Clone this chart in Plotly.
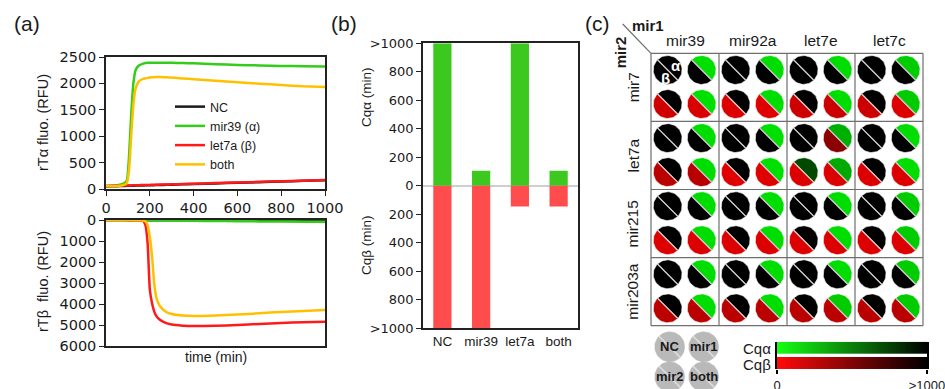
import numpy as np
import plotly.graph_objects as go

W, H = 945, 389
FONT = "Liberation Sans, Arial, sans-serif"
NUMFONT = "DejaVu Sans, Liberation Sans, sans-serif"

# ---------------- Panel (a) data ----------------
time_min = [0, 50, 80, 95, 105, 115, 125, 135, 150, 170, 180, 190, 200, 210, 220, 230,
            240, 250, 275, 300, 350, 400, 500, 600, 700, 800, 900, 1000]
alpha_nc = [48, 54, 58, 60, 61, 62, 63, 64, 66, 68, 69, 70, 71, 72, 73, 74,
            75, 76, 79, 82, 88, 94, 106, 118, 130, 142, 154, 165]
alpha_mir39 = [55, 70, 100, 160, 600, 1400, 2000, 2250, 2340, 2375, 2385, 2390, 2390, 2392, 2393, 2393,
               2393, 2392, 2390, 2390, 2385, 2380, 2365, 2350, 2340, 2330, 2325, 2320]
alpha_let7a = [55, 60, 64, 66, 67, 68, 70, 71, 73, 75, 76, 77, 78, 79, 80, 81,
               82, 84, 86, 89, 95, 100, 112, 124, 135, 147, 158, 170]
alpha_both = [50, 58, 75, 110, 350, 1000, 1600, 1900, 2040, 2085, 2095, 2105, 2110, 2115, 2118, 2120,
              2120, 2120, 2115, 2110, 2095, 2080, 2050, 2020, 1995, 1970, 1945, 1930]
beta_nc = [0, 1, 2, 2, 3, 3, 3, 4, 4, 5, 5, 6, 6, 6, 7, 7,
           8, 8, 9, 10, 13, 16, 22, 28, 34, 40, 46, 52]
beta_mir39 = [0, 3, 5, 6, 7, 8, 9, 10, 12, 14, 15, 16, 17, 18, 19, 20,
              21, 22, 25, 28, 33, 38, 48, 58, 66, 74, 80, 85]
beta_let7a = [0, 2, 4, 5, 6, 7, 8, 10, 18, 50, 250, 1100, 3300, 3950, 4350, 4580,
              4700, 4780, 4910, 4980, 5030, 5050, 5040, 5000, 4950, 4900, 4870, 4850]
beta_both = [0, 2, 3, 4, 5, 6, 7, 8, 12, 20, 60, 250, 800, 1700, 3000, 3700,
             3980, 4150, 4380, 4480, 4550, 4570, 4550, 4500, 4440, 4380, 4330, 4290]

series_names = ["NC", "mir39 (α)", "let7a (β)", "both"]
series_colors = ["#1a1a1a", "#33cc1a", "#ff1a1a", "#ffc000"]

# ---------------- Panel (b) data ----------------
bar_categories = ["NC", "mir39", "let7a", "both"]
cq_alpha_bar = [1000, 105, 1000, 105]
cq_beta_bar = [1000, 1000, 147, 147]
bar_ticks = [-1000, -800, -600, -400, -200, 0, 200, 400, 600, 800, 1000]
bar_ticktext = [">1000", "800", "600", "400", "200", "0", "200", "400", "600", "800", ">1000"]

# ---------------- Panel (c) data ----------------
col_labels = ["mir39", "mir92a", "let7e", "let7c"]
row_labels = ["mir7", "let7a", "mir215", "mir203a"]
conditions = ["NC", "mir1", "mir2", "both"]
# [row][col][condition]  (Cq in min, 1000 means >1000)
cq_alpha_grid = [
    [[1000, 122, 1000, 122], [1000, 133, 1000, 133], [1000, 133, 1000, 133], [1000, 200, 1000, 200]],
    [[1000, 133, 1000, 133], [1000, 122, 1000, 122], [1000, 310, 710, 333], [1000, 133, 1000, 133]],
    [[1000, 133, 1000, 133], [1000, 133, 1000, 133], [1000, 133, 1000, 133], [1000, 200, 1000, 200]],
    [[1000, 133, 1000, 133], [1000, 133, 1000, 133], [1000, 133, 1000, 200], [1000, 200, 1000, 200]],
]
cq_beta_grid = [
    [[1000, 1000, 184, 150], [1000, 1000, 133, 122], [1000, 1000, 200, 200], [1000, 1000, 200, 133]],
    [[1000, 1000, 267, 280], [1000, 1000, 122, 122], [1000, 455, 133, 133], [1000, 1000, 133, 133]],
    [[1000, 1000, 133, 133], [1000, 1000, 133, 133], [1000, 1000, 133, 133], [1000, 1000, 133, 133]],
    [[1000, 1000, 267, 267], [1000, 1000, 267, 267], [1000, 1000, 267, 267], [1000, 1000, 267, 267]],
]
scale_ticks = [0, 1000]
scale_ticktext = ["0", ">1000"]

fig = go.Figure()

# ---- Panel (a) traces ----
alpha_series = [alpha_nc, alpha_mir39, alpha_let7a, alpha_both]
beta_series = [beta_nc, beta_mir39, beta_let7a, beta_both]
for name, col, a in zip(series_names, series_colors, alpha_series):
    fig.add_trace(go.Scatter(x=time_min, y=a, mode="lines", name=name,
                             line=dict(color=col, width=2.5, shape="spline", smoothing=0.5),
                             xaxis="x", yaxis="y", showlegend=True))
for name, col, b in zip(series_names, series_colors, beta_series):
    fig.add_trace(go.Scatter(x=time_min, y=b, mode="lines", name=name,
                             line=dict(color=col, width=2.5, shape="spline", smoothing=0.5),
                             xaxis="x2", yaxis="y2", showlegend=False))

# ---- Panel (b) traces ----
fig.add_trace(go.Bar(x=bar_categories, y=cq_alpha_bar, marker=dict(color="#3cc81e", line_width=0),
                     xaxis="x3", yaxis="y3", showlegend=False))
fig.add_trace(go.Bar(x=bar_categories, y=[-v for v in cq_beta_bar], marker=dict(color="#ff4d4d", line_width=0),
                     xaxis="x3", yaxis="y3", showlegend=False))

# ---- Panel (c) traces ----
R = 0.212
OFF = [0.245, 0.745]


def half(cx, cy, t0, t1, r=R, n=36):
    t = np.radians(np.linspace(t0, t1, n))
    xs = cx + r * np.cos(t)
    ys = cy + r * np.sin(t)
    return list(xs) + [xs[0]], list(ys) + [ys[0]]


def alpha_color(v):
    f = 1 - min(v, 1000) / 1000
    return f"rgb(0,{round(255 * f)},0)"


def beta_color(v):
    f = 1 - min(v, 1000) / 1000
    return f"rgb({round(255 * f)},0,0)"


sep_x, sep_y = [], []
for ri in range(len(row_labels)):
    for ci in range(len(col_labels)):
        for k in range(len(conditions)):
            cx = ci + OFF[k % 2]
            cy = ri + OFF[k // 2]
            xa, ya = half(cx, cy, -135, 45)
            xb, yb = half(cx, cy, 45, 225)
            fig.add_trace(go.Scatter(x=xa, y=ya, fill="toself", mode="lines",
                                     fillcolor=alpha_color(cq_alpha_grid[ri][ci][k]),
                                     line=dict(width=0.6, color="white"),
                                     xaxis="x4", yaxis="y4", showlegend=False, hoverinfo="skip"))
            fig.add_trace(go.Scatter(x=xb, y=yb, fill="toself", mode="lines",
                                     fillcolor=beta_color(cq_beta_grid[ri][ci][k]),
                                     line=dict(width=0.6, color="white"),
                                     xaxis="x4", yaxis="y4", showlegend=False, hoverinfo="skip"))
            c = np.cos(np.radians(45)) * R
            sep_x += [cx - c, cx + c, None]
            sep_y += [cy - c, cy + c, None]

fig.add_trace(go.Scatter(x=sep_x, y=sep_y, mode="lines", line=dict(color="#c8c8c8", width=1.3),
                         xaxis="x4", yaxis="y4", showlegend=False, hoverinfo="skip"))

# grid lines
gx, gy = [], []
n = len(col_labels)
for i in range(n + 1):
    gx += [i, i, None]
    gy += [0, n, None]
    gx += [0, n, None]
    gy += [i, i, None]
gx += [-0.416, 0, None]
gy += [-0.43, 0, None]
fig.add_trace(go.Scatter(x=gx, y=gy, mode="lines", line=dict(color="#6e6e6e", width=1.2),
                         xaxis="x4", yaxis="y4", showlegend=False, hoverinfo="skip"))

# key circles
KEY_Y = [4.31, 4.75]
kx, ky = [], []
for k, lab in enumerate(conditions):
    cx = OFF[k % 2] + 0.03
    cy = KEY_Y[k // 2]
    t = np.radians(np.linspace(0, 360, 60))
    fig.add_trace(go.Scatter(x=list(cx + 0.22 * np.cos(t)), y=list(cy + 0.22 * np.sin(t)), fill="toself",
                             mode="lines", fillcolor="#b9b9b9", line=dict(width=0.5, color="#b9b9b9"),
                             xaxis="x4", yaxis="y4", showlegend=False, hoverinfo="skip"))
    c = np.cos(np.radians(45)) * 0.22
    kx += [cx - c, cx + c, None]
    ky += [cy - c, cy + c, None]
fig.add_trace(go.Scatter(x=kx, y=ky, mode="lines", line=dict(color="#dedede", width=1.5),
                         xaxis="x4", yaxis="y4", showlegend=False, hoverinfo="skip"))

# colour scale bars
edges = list(np.linspace(0, 1000, 101))
centers = [[(edges[i] + edges[i + 1]) / 2 for i in range(100)]]
fig.add_trace(go.Heatmap(x=edges, y=[0.56, 1.0], z=centers, zmin=0, zmax=1000,
                         colorscale=[[0, "rgb(20,255,20)"], [1, "rgb(0,0,0)"]], showscale=False,
                         xaxis="x5", yaxis="y5", hoverinfo="skip"))
fig.add_trace(go.Heatmap(x=edges, y=[0.0, 0.44], z=centers, zmin=0, zmax=1000,
                         colorscale=[[0, "rgb(255,10,10)"], [1, "rgb(0,0,0)"]], showscale=False,
                         xaxis="x5", yaxis="y5", hoverinfo="skip"))


def px_x(p):
    return p / W


def px_y(p):
    return 1 - p / H


axcommon = dict(showgrid=False, zeroline=False, showline=True, mirror=True, linecolor="#222",
                linewidth=1.5, ticks="outside", tickcolor="#222", ticklen=5, automargin=False)

# panel c coordinate system (units = cells, 68 px per unit)
x4_range = [(600 - 651) / 68.0, (945 - 651) / 68.0]
y4_range = [(389 - 53.3) / 68.1, (0 - 53.3) / 68.1]

fig.update_layout(
    width=W, height=H, margin=dict(l=0, r=0, t=0, b=0, pad=0), autosize=False,
    paper_bgcolor="white", plot_bgcolor="white",
    font=dict(family=FONT, color="#1a1a1a", size=14),
    barmode="relative", bargap=0.53,
    legend=dict(x=px_x(170), y=px_y(92), xanchor="left", yanchor="top",
                bgcolor="rgba(0,0,0,0)", font=dict(size=12.5, family=FONT),
                itemwidth=30, tracegroupgap=0),
    xaxis=dict(domain=[px_x(106), px_x(325)], anchor="y", range=[0, 1000],
               tickvals=[0, 200, 400, 600, 800, 1000],
               tickfont=dict(family=NUMFONT, size=14.5), **axcommon),
    yaxis=dict(domain=[px_y(189), px_y(57)], anchor="x", range=[0, 2500],
               tickvals=[0, 500, 1000, 1500, 2000, 2500],
               tickfont=dict(family=NUMFONT, size=14.5), **axcommon),
    xaxis2=dict(domain=[px_x(106), px_x(325)], anchor="y2", range=[0, 1000], showticklabels=False,
                **{**axcommon, "ticks": ""}),
    yaxis2=dict(domain=[px_y(346), px_y(220)], anchor="x2", range=[6000, 0],
                tickvals=[0, 1000, 2000, 3000, 4000, 5000, 6000],
                tickfont=dict(family=NUMFONT, size=14.5), **axcommon),
    xaxis3=dict(domain=[px_x(423), px_x(578)], anchor="y3", ticks="", showline=True, mirror=True,
                linecolor="#222", linewidth=1.5, tickfont=dict(size=13.5), showgrid=False,
                automargin=False),
    yaxis3=dict(domain=[px_y(328), px_y(43.3)], anchor="x3", range=[-1000, 1000], tickvals=bar_ticks,
                ticktext=bar_ticktext, tickfont=dict(family=NUMFONT, size=13),
                showgrid=False, zeroline=True, zerolinecolor="#cfcfcf", zerolinewidth=2,
                showline=True, mirror=True, linecolor="#222", linewidth=1.5,
                ticks="outside", tickcolor="#222", ticklen=5, automargin=False),
    xaxis4=dict(domain=[px_x(600), 1], anchor="y4", range=x4_range, visible=False, automargin=False),
    yaxis4=dict(domain=[0, 1], anchor="x4", range=y4_range, visible=False, automargin=False),
    xaxis5=dict(domain=[px_x(777), px_x(927)], anchor="y5", range=[0, 1000], tickvals=scale_ticks,
                ticktext=scale_ticktext, ticks="outside", ticklen=4, tickwidth=2, tickcolor="black",
                showline=False, showgrid=False, zeroline=False, tickfont=dict(size=13),
                ticklabeloverflow="allow", automargin=False),
    yaxis5=dict(domain=[px_y(369), px_y(341.7)], anchor="x5", range=[0, 1], showticklabels=False, ticks="",
                showline=True, mirror=True, linecolor="black", linewidth=2, showgrid=False, zeroline=False,
                automargin=False),
)

C = dict(xanchor="center", yanchor="middle", showarrow=False)
ann = []
# panel labels
for lab, x in [("(a)", 27), ("(b)", 344), ("(c)", 597)]:
    ann.append(dict(text=lab, x=px_x(x), y=px_y(23), xref="paper", yref="paper",
                    font=dict(size=21), **C))
# panel a titles
ann.append(dict(text="rTα fluo. (RFU)", x=px_x(43), y=px_y(123), xref="paper", yref="paper",
                textangle=-90, font=dict(size=14.5), **C))
ann.append(dict(text="rTβ  fluo. (RFU)", x=px_x(43), y=px_y(282), xref="paper", yref="paper",
                textangle=-90, font=dict(size=14.5), **C))
ann.append(dict(text="time (min)", x=px_x(215.5), y=px_y(357), xref="paper", yref="paper",
                font=dict(size=14), **C))
# panel b titles
ann.append(dict(text="Cqα (min)", x=px_x(366), y=px_y(97), xref="paper", yref="paper",
                textangle=-90, font=dict(size=13.5), **C))
ann.append(dict(text="Cqβ (min)", x=px_x(366), y=px_y(245), xref="paper", yref="paper",
                textangle=-90, font=dict(size=13.5), **C))
# panel c labels
for ci, lab in enumerate(col_labels):
    ann.append(dict(text=lab, x=ci + 0.5, y=-0.185, xref="x4", yref="y4", font=dict(size=15.5), **C))
for ri, lab in enumerate(row_labels):
    ann.append(dict(text=lab, x=-0.265, y=ri + 0.5, xref="x4", yref="y4",
                    textangle=-90, font=dict(size=15.5), **C))
ann.append(dict(text="<b>mir1</b>", x=-0.044, y=-0.415, xref="x4", yref="y4", font=dict(size=15), **C))
ann.append(dict(text="<b>mir2</b>", x=-0.445, y=-0.01, xref="x4", yref="y4",
                textangle=-90, font=dict(size=15), **C))
ann.append(dict(text="<b>α</b>", x=OFF[0] + 0.12, y=OFF[0] - 0.06, xref="x4", yref="y4",
                font=dict(size=15, color="white"), **C))
ann.append(dict(text="<b>β</b>", x=OFF[0] - 0.035, y=OFF[0] + 0.13, xref="x4", yref="y4",
                font=dict(size=15, color="white"), **C))
for k, lab in enumerate(conditions):
    ann.append(dict(text=f"<b>{lab}</b>", x=OFF[k % 2] + 0.03, y=KEY_Y[k // 2], xref="x4", yref="y4",
                    font=dict(size=13, color="#1a1a1a"), **C))
ann.append(dict(text="Cqα", x=px_x(773), y=px_y(348), xref="paper", yref="paper", showarrow=False,
                xanchor="right", yanchor="middle", font=dict(size=15)))
ann.append(dict(text="Cqβ", x=px_x(773), y=px_y(364), xref="paper", yref="paper", showarrow=False,
                xanchor="right", yanchor="middle", font=dict(size=15)))
fig.update_layout(annotations=ann)

fig.write_html("out.html", config={"displayModeBar": False},
               post_script="document.body.style.margin='0';document.body.style.padding='0';")
